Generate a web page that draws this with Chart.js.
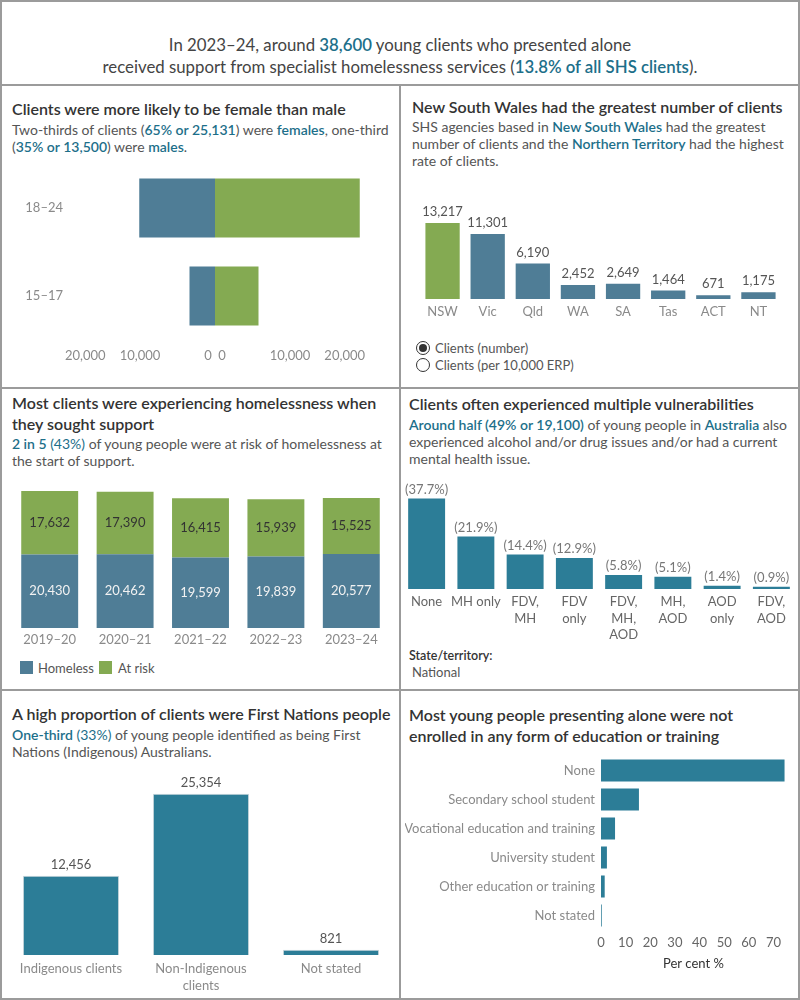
<!DOCTYPE html>
<html>
<head>
<meta charset="utf-8">
<script src="https://cdn.jsdelivr.net/npm/chart.js@4/dist/chart.umd.min.js"></script>
<style>
  body { margin: 0; background: #fff; font-family: Lato, "Open Sans", sans-serif; }
  #page { position: relative; width: 800px; height: 1000px; overflow: hidden; }
  .line { position: absolute; background: #9b9b9b; }
  .t { position: absolute; white-space: nowrap; }
  .head { font-size: 16.8px; color: #444; line-height: 22px; width: 800px; left: 0; text-align: center; }
  .title { font-size: 16px; font-weight: 600; color: #333; line-height: 20.5px; }
  .sub { font-size: 14px; color: #555; line-height: 17px; }
  .hl { color: #1d6f8a; font-weight: 600; }
  .hn { color: #1d6f8a; }
  .small { font-size: 13px; color: #555; }
  canvas { position: absolute; }
  .radio { position: absolute; width: 12px; height: 12px; border: 1.5px solid #333; border-radius: 50%; background: #fff; }
  .radio.on::after { content: ""; position: absolute; left: 2px; top: 2px; width: 8px; height: 8px; border-radius: 50%; background: #333; }
  .sw { position: absolute; width: 13px; height: 13px; }
</style>
</head>
<body>
<div id="page">
  <!-- frame -->
  <div class="line" style="left:0;top:0;width:800px;height:2px"></div>
  <div class="line" style="left:0;top:998px;width:800px;height:2px"></div>
  <div class="line" style="left:0;top:0;width:2px;height:1000px"></div>
  <div class="line" style="left:798px;top:0;width:2px;height:1000px"></div>
  <div class="line" style="left:0;top:84px;width:800px;height:2px"></div>
  <div class="line" style="left:399px;top:86px;width:2px;height:914px"></div>
  <div class="line" style="left:0;top:387px;width:800px;height:2px"></div>
  <div class="line" style="left:0;top:689px;width:800px;height:2px"></div>

  <!-- header -->
  <div class="t head" style="top:34px">In 2023–24, around <span class="hl">38,600</span> young clients who presented alone</div>
  <div class="t head" style="top:56px">received support from specialist homelessness services (<span class="hl">13.8% of all SHS clients</span>).</div>

  <!-- panel 1 -->
  <div class="t title" style="left:12px;top:99px">Clients were more likely to be female than male</div>
  <div class="t sub" style="left:12px;top:121px">Two-thirds of clients (<span class="hl">65% or 25,131</span>) were <span class="hl">females</span>, one-third<br>(<span class="hl">35% or 13,500</span>) were <span class="hl">males</span>.</div>

  <!-- panel 2 -->
  <div class="t title" style="left:412px;top:97px">New South Wales had the greatest number of clients</div>
  <div class="t sub" style="left:412px;top:118px">SHS agencies based in <span class="hl">New South Wales</span> had the greatest<br>number of clients and the <span class="hl">Northern Territory</span> had the highest<br>rate of clients.</div>
  <div class="radio on" style="left:416px;top:341px"></div>
  <div class="t small" style="left:435px;top:340px">Clients (number)</div>
  <div class="radio" style="left:416px;top:358px"></div>
  <div class="t small" style="left:435px;top:357px">Clients (per 10,000 ERP)</div>

  <!-- panel 3 -->
  <div class="t title" style="left:12px;top:393px">Most clients were experiencing homelessness when<br>they sought support</div>
  <div class="t sub" style="left:12px;top:435px"><span class="hl">2 in 5</span> <span class="hn">(43%)</span> of young people were at risk of homelessness at<br>the start of support.</div>
  <div class="sw" style="left:20px;top:661px;background:#4f7d96"></div>
  <div class="t small" style="left:38px;top:660px">Homeless</div>
  <div class="sw" style="left:99px;top:661px;background:#84aa52"></div>
  <div class="t small" style="left:118px;top:660px">At risk</div>

  <!-- panel 4 -->
  <div class="t title" style="left:409px;top:394px">Clients often experienced multiple vulnerabilities</div>
  <div class="t sub" style="left:409px;top:416px"><span class="hl">Around half (49% or 19,100)</span> of young people in <span class="hl">Australia</span> also<br>experienced alcohol and/or drug issues and/or had a current<br>mental health issue.</div>
  <div class="t" style="left:409px;top:648px;font-size:12.5px;font-weight:600;color:#333">State/territory:</div>
  <div class="t small" style="left:412px;top:664px">National</div>

  <!-- panel 5 -->
  <div class="t title" style="left:12px;top:704px">A high proportion of clients were First Nations people</div>
  <div class="t sub" style="left:12px;top:726px"><span class="hl">One-third</span> <span class="hn">(33%)</span> of young people identified as being First<br>Nations (Indigenous) Australians.</div>

  <!-- panel 6 -->
  <div class="t title" style="left:409px;top:705px">Most young people presenting alone were not<br>enrolled in any form of education or training</div>
</div>

<script>
// ---- data ----
const ageGroups = ["18–24", "15–17"];
const maleClients = [10100, 3400];
const femaleClients = [19300, 5800];

const states = ["NSW", "Vic", "Qld", "WA", "SA", "Tas", "ACT", "NT"];
const stateClients = [13217, 11301, 6190, 2452, 2649, 1464, 671, 1175];

const years = ["2019–20", "2020–21", "2021–22", "2022–23", "2023–24"];
const homeless = [20430, 20462, 19599, 19839, 20577];
const atRisk = [17632, 17390, 16415, 15939, 15525];

const vulnLabels = [["None"], ["MH only"], ["FDV,", "MH"], ["FDV", "only"], ["FDV,", "MH,", "AOD"], ["MH,", "AOD"], ["AOD", "only"], ["FDV,", "AOD"]];
const vulnPct = [37.7, 21.9, 14.4, 12.9, 5.8, 5.1, 1.4, 0.9];

const indigLabels = ["Indigenous clients", ["Non-Indigenous", "clients"], "Not stated"];
const indigClients = [12456, 25354, 821];

const eduLabels = ["None", "Secondary school student", "Vocational education and training", "University student", "Other education or training", "Not stated"];
const eduPct = [74.5, 15.4, 5.7, 2.4, 1.5, 0.3];

// ---- styles ----
const BLUE = "#4f7d96";
const GREEN = "#84aa52";
const TEAL = "#2c7d97";
const GREY = "#8a8a8a";
const tickFont = { family: "Lato", size: 13 };
const page = document.getElementById("page");
const fmt = (v) => v.toLocaleString("en-US");

function makeCanvas(x, y, w, h) {
    const c = document.createElement("canvas");
    c.width = w;
    c.height = h;
    c.style.left = x + "px";
    c.style.top = y + "px";
    c.style.width = w + "px";
    c.style.height = h + "px";
    page.appendChild(c);
    return c;
}

// draws value labels above bars or inside stacked segments
function barLabels(styles) {
    return {
        id: "barLabels",
        afterDatasetsDraw(chart) {
            const ctx = chart.ctx;
            ctx.save();
            ctx.textAlign = "center";
            ctx.textBaseline = "middle";
            chart.data.datasets.forEach((ds, di) => {
                const s = styles[di];
                if (!s) return;
                ctx.font = (s.size || 13) + "px Lato";
                ctx.fillStyle = s.color;
                chart.getDatasetMeta(di).data.forEach((bar, i) => {
                    const text = s.format(ds.data[i]);
                    const y = s.inside ? (bar.y + bar.base) / 2 : bar.y - s.offset;
                    ctx.fillText(text, bar.x, y);
                });
            });
            ctx.restore();
        },
    };
}

const noGrid = { display: false, drawTicks: false };
const noBorder = { display: false };
const base = {
    responsive: false,
    animation: false,
    plugins: { legend: { display: false }, tooltip: { enabled: false } },
};

// ---- panel 1: age / sex pyramid (two halves, each with its own axis) ----
// males plotted as negatives so they grow to the left, labels show absolute values
new Chart(makeCanvas(15, 154, 208, 211), {
    type: "bar",
    data: {
        labels: ageGroups,
        datasets: [{ data: maleClients.map((v) => -v), backgroundColor: BLUE, barPercentage: 1, categoryPercentage: 0.67 }],
    },
    options: {
        ...base,
        indexAxis: "y",
        layout: { padding: { top: 10 } },
        scales: {
            x: {
                min: -20000, max: 0,
                ticks: {
                    stepSize: 10000, align: "inner", color: GREY, font: tickFont, padding: 8,
                    callback: (v) => (v === 0 ? "0 " : fmt(Math.abs(v))),
                },
                grid: noGrid, border: noBorder,
                afterFit: (s) => { s.height = 25; },
            },
            y: {
                ticks: { color: GREY, font: tickFont, padding: 2 },
                grid: noGrid, border: noBorder,
                afterFit: (s) => { s.width = 50; },
            },
        },
    },
});

new Chart(makeCanvas(207, 154, 166, 211), {
    type: "bar",
    data: {
        labels: ageGroups,
        datasets: [{ data: femaleClients, backgroundColor: GREEN, barPercentage: 1, categoryPercentage: 0.67 }],
    },
    options: {
        ...base,
        indexAxis: "y",
        layout: { padding: { top: 10 } },
        scales: {
            x: {
                min: 0, max: 20000,
                ticks: {
                    stepSize: 10000, align: "inner", color: GREY, font: tickFont, padding: 8,
                    callback: (v) => (v === 0 ? " 0" : fmt(v)),
                },
                grid: noGrid, border: noBorder,
                afterFit: (s) => { s.height = 25; },
            },
            y: { display: false },
        },
    },
});

// ---- panel 2: clients by state ----
new Chart(makeCanvas(420, 200, 361, 121), {
    type: "bar",
    data: {
        labels: states,
        datasets: [{
            data: stateClients,
            backgroundColor: states.map((s) => (s === "NSW" ? GREEN : BLUE)),
            barPercentage: 1, categoryPercentage: 0.76,
        }],
    },
    options: {
        ...base,
        layout: { padding: { top: 7 } },
        scales: {
            x: {
                ticks: { color: GREY, font: tickFont, padding: 5 },
                grid: noGrid, border: noBorder,
                afterFit: (s) => { s.height = 22; },
            },
            y: { display: false, min: 0, max: 16000 },
        },
    },
    plugins: [barLabels([{ color: "#555", offset: 11, format: fmt }])],
});

// ---- panel 3: homeless / at risk over time ----
new Chart(makeCanvas(12, 480, 377, 170), {
    type: "bar",
    data: {
        labels: years,
        datasets: [
            { label: "Homeless", data: homeless, backgroundColor: BLUE, barPercentage: 1, categoryPercentage: 0.755 },
            { label: "At risk", data: atRisk, backgroundColor: GREEN, barPercentage: 1, categoryPercentage: 0.755 },
        ],
    },
    options: {
        ...base,
        layout: { padding: { top: 4 } },
        scales: {
            x: {
                stacked: true,
                ticks: { color: GREY, font: tickFont, padding: 4 },
                grid: noGrid, border: noBorder,
                afterFit: (s) => { s.height = 22; },
            },
            y: { stacked: true, display: false, min: 0, max: 40000 },
        },
    },
    plugins: [barLabels([
        { inside: true, color: "#f2f2f2", format: fmt },
        { inside: true, color: "#333", format: fmt },
    ])],
});

// ---- panel 4: vulnerabilities ----
new Chart(makeCanvas(402, 478, 394, 171), {
    type: "bar",
    data: {
        labels: vulnLabels,
        datasets: [{ data: vulnPct, backgroundColor: TEAL, barPercentage: 1, categoryPercentage: 0.75 }],
    },
    options: {
        ...base,
        layout: { padding: { top: 15 } },
        scales: {
            x: {
                ticks: { color: "#666", font: { family: "Lato", size: 13, lineHeight: 1.27 }, padding: 5, autoSkip: false, maxRotation: 0 },
                grid: noGrid, border: noBorder,
                afterFit: (s) => { s.height = 60; },
            },
            y: { display: false, min: 0, max: 40 },
        },
    },
    plugins: [barLabels([{ color: "#777", offset: 9, format: (v) => "(" + v.toFixed(1) + "%)" }])],
});

// ---- panel 5: Indigenous status ----
new Chart(makeCanvas(6, 765, 390, 230), {
    type: "bar",
    data: {
        labels: indigLabels,
        datasets: [{
            data: indigClients, backgroundColor: TEAL, borderColor: "#c8d5db", borderWidth: 1,
            barPercentage: 1, categoryPercentage: 0.74,
        }],
    },
    options: {
        ...base,
        layout: { padding: { top: 12 } },
        scales: {
            x: {
                ticks: { color: GREY, font: { family: "Lato", size: 13, lineHeight: 1.3 }, padding: 5, maxRotation: 0 },
                grid: noGrid, border: noBorder,
                afterFit: (s) => { s.height = 40; },
            },
            y: { display: false, min: 0, max: 28000 },
        },
    },
    plugins: [barLabels([{ color: "#555", offset: 11, format: fmt }])],
});

// ---- panel 6: education / training ----
new Chart(makeCanvas(405, 742, 381, 230), {
    type: "bar",
    data: {
        labels: eduLabels,
        datasets: [{ data: eduPct, backgroundColor: TEAL, barPercentage: 1, categoryPercentage: 0.76 }],
    },
    options: {
        ...base,
        indexAxis: "y",
        layout: { padding: { top: 14 } },
        scales: {
            x: {
                min: 0, max: 75,
                ticks: { stepSize: 10, includeBounds: false, color: "#666", font: tickFont, padding: 5 },
                title: { display: true, text: "Per cent %", color: "#333", font: tickFont, padding: { top: 0, bottom: 0 } },
                grid: noGrid, border: noBorder,
                afterFit: (s) => { s.height = 42; },
            },
            y: {
                ticks: { color: GREY, font: tickFont, padding: 6 },
                grid: noGrid, border: noBorder,
                afterFit: (s) => { s.width = 196; },
            },
        },
    },
});
</script>
</body>
</html>
